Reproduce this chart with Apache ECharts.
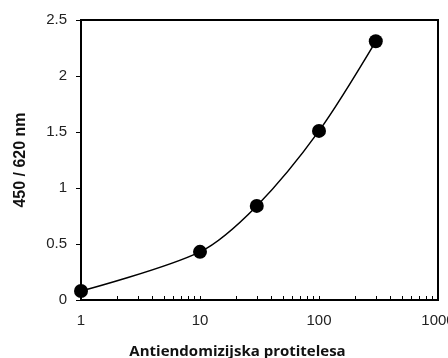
<!DOCTYPE html>
<html>
<head>
<meta charset="utf-8">
<script src="https://cdn.jsdelivr.net/npm/echarts@6/dist/echarts.min.js"></script>
<style>
  html, body { margin: 0; padding: 0; background: #fff; }
  #chart { width: 448px; height: 358px; }
</style>
</head>
<body>
<div id="chart"></div>
<script>
// dilution (log scale) vs absorbance
var dilution = [1, 10, 30, 100, 300];
var absorbance = [0.08, 0.43, 0.84, 1.51, 2.31];
var xLabelValues = [1, 10, 100, 1000];
var xMinorTicks = [2, 3, 4, 5, 6, 7, 8, 9, 10, 20, 30, 40, 50, 60, 70, 80, 90, 100, 200, 300, 400, 500, 600, 700, 800, 900];

var chart = echarts.init(document.getElementById('chart'));

var lbl = { color: '#222', fontFamily: 'Liberation Sans, Arial', fontSize: 15 };

chart.setOption({
  animation: false,
  grid: { left: 81, right: 10, top: 20, bottom: 58, show: true, borderColor: '#000', borderWidth: 2,
    outerBoundsMode: 'none', containLabel: false },
  xAxis: {
    type: 'log', logBase: 10, min: 1, max: 1000,
    name: 'Antiendomizijska protitelesa', nameLocation: 'middle', nameGap: 44,
    nameTextStyle: { fontFamily: 'Open Sans', fontWeight: 'bold', fontSize: 15, color: '#111', padding: [0, 44, 0, 0] },
    axisLine: { lineStyle: { color: '#000', width: 2 } },
    axisTick: { show: true, inside: true, length: 4, lineStyle: { color: '#000', width: 1 }, customValues: xMinorTicks },
    axisLabel: { show: true, customValues: xLabelValues, margin: 13, color: lbl.color, fontFamily: lbl.fontFamily, fontSize: lbl.fontSize,
      hideOverlap: false, formatter: function (v) { return String(v); } },
    splitLine: { show: false },
    minorTick: { show: false }
  },
  yAxis: {
    type: 'value', min: 0, max: 2.5, interval: 0.5,
    name: '450 / 620 nm', nameLocation: 'middle', nameGap: 52, nameRotate: 90,
    nameTextStyle: { fontFamily: 'Liberation Sans', fontWeight: 'bold', fontSize: 16, color: '#111' },
    axisLine: { show: true, lineStyle: { color: '#000', width: 2 } },
    axisTick: { show: true, inside: false, length: 5, lineStyle: { color: '#000', width: 1 } },
    axisLabel: { margin: 14, color: lbl.color, fontFamily: lbl.fontFamily, fontSize: lbl.fontSize,
      formatter: function (v) { return String(v); } },
    splitLine: { show: false }
  },
  series: [{
    type: 'line',
    data: dilution.map(function (d, i) { return [d, absorbance[i]]; }),
    smooth: 0.3,
    symbol: 'circle', symbolSize: 14,
    itemStyle: { color: '#000' },
    lineStyle: { color: '#000', width: 1.5 }
  }]
});
</script>
</body>
</html>
